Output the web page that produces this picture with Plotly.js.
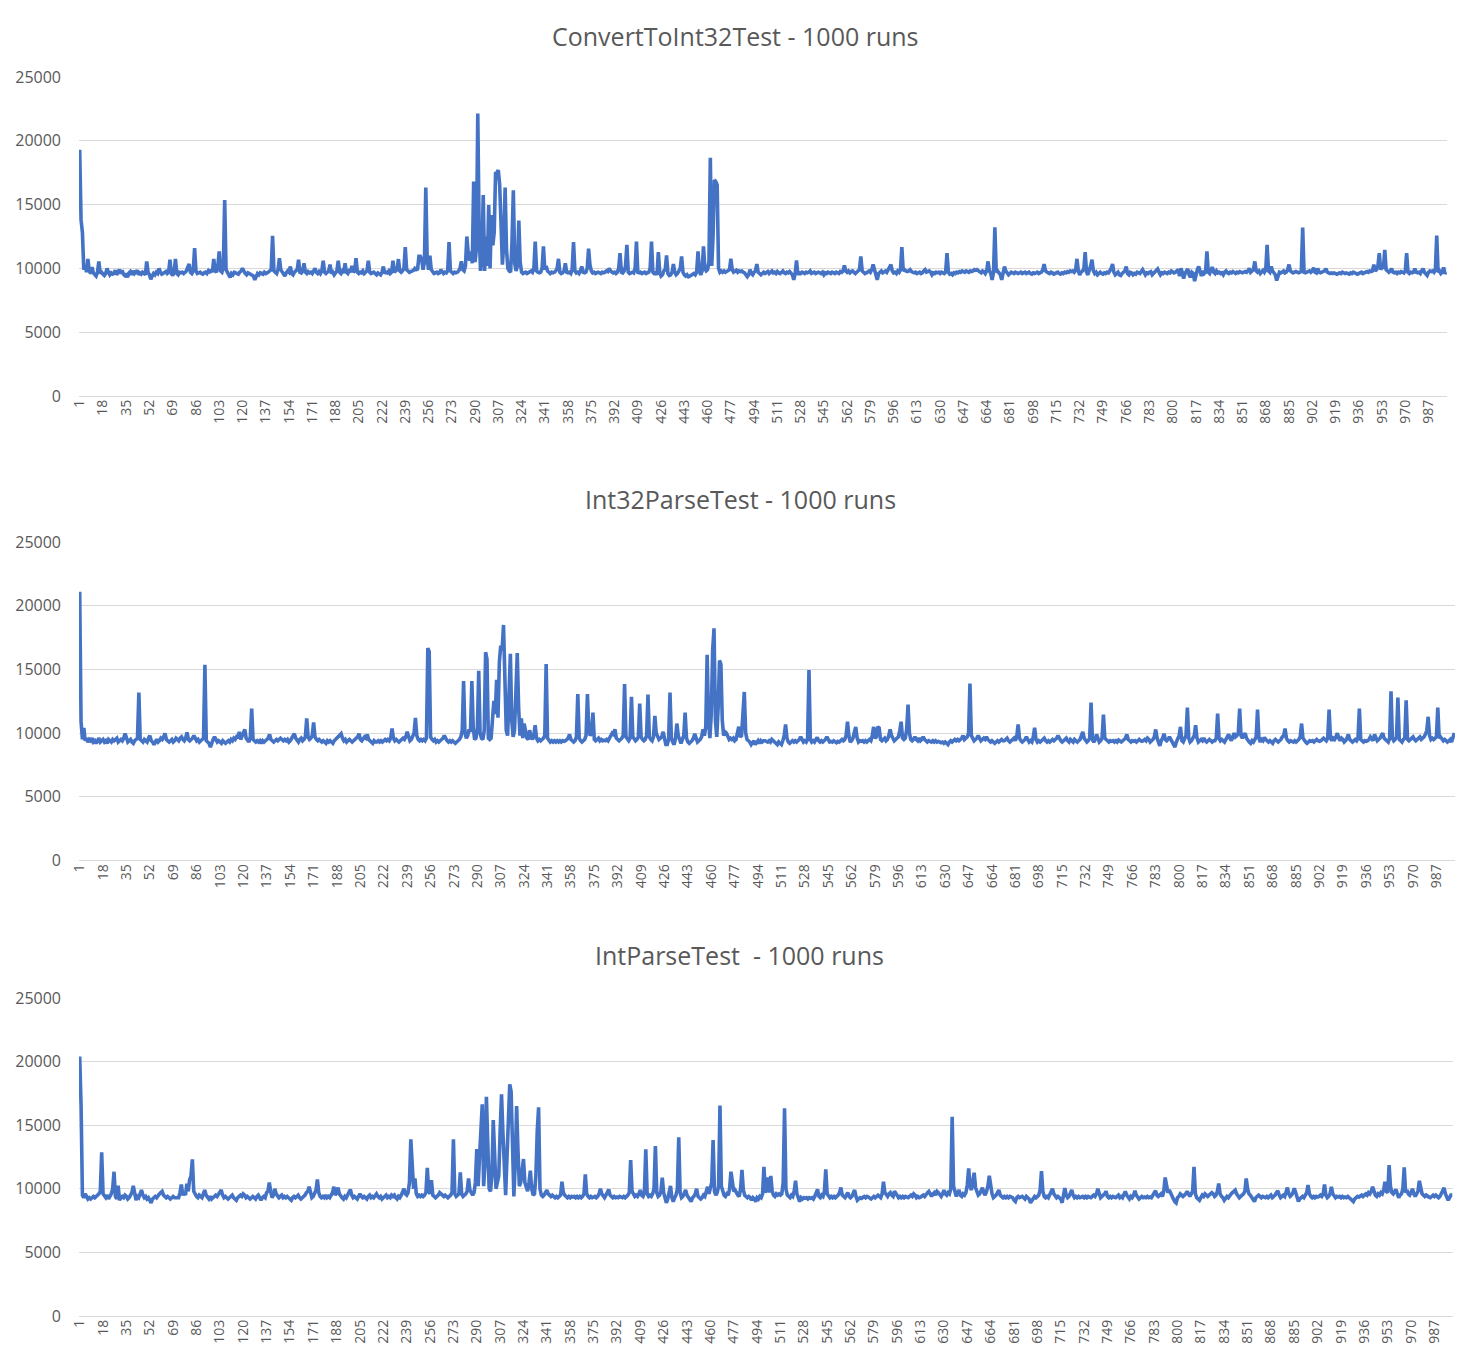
<!DOCTYPE html>
<html>
<head>
<meta charset="utf-8">
<script src="https://cdn.plot.ly/plotly-3.0.1.min.js"></script>
<style>
  html, body { margin: 0; padding: 0; background: #ffffff; }
  #chart { width: 1478px; height: 1371px; }
</style>
</head>
<body>
<div id="chart"></div>
<script>
// ---- DATA -------------------------------------------------------------
const chartTitles = ["ConvertToInt32Test - 1000 runs", "Int32ParseTest - 1000 runs", "IntParseTest\u00A0 - 1000 runs"];

const tickLabels = [1,18,35,52,69,86,103,120,137,154,171,188,205,222,239,256,273,290,307,324,341,358,375,392,409,426,443,460,477,494,511,528,545,562,579,596,613,630,647,664,681,698,715,732,749,766,783,800,817,834,851,868,885,902,919,936,953,970,987];

const yTicks = [0, 5000, 10000, 15000, 20000, 25000];

const convertToInt32Test = [
19300,13800,12800,9900,10200,9700,10750,9800,9600,10100,9650,9500,9400,9700,10550,9600,9700,9550,9450,9600,10000,9700,9500,9650,9550,
9600,9850,9500,9700,9900,9600,9850,9550,9450,9600,9300,9650,9750,9500,9800,9600,9700,9850,9500,9650,9550,9700,9600,9500,10550,
9700,9500,9150,9400,9600,9500,9700,9600,10000,9700,9550,9600,9650,9750,9600,9700,10680,9600,9450,9700,10750,9600,9500,9700,9650,
9700,9600,9750,9800,10100,10340,9700,9600,9800,11590,9800,9600,9650,9700,9600,9550,9650,9700,9600,9800,9650,9900,9700,10750,9800,
9700,10200,11330,9800,9700,10100,15360,9900,9600,9500,9300,9600,9500,9700,9650,9600,9550,9700,9800,10000,9700,9600,9500,9650,9600,
9550,9500,9400,9100,9400,9600,9500,9650,9600,9550,9700,9600,9650,9700,9800,9900,12550,9800,9700,9600,9900,10800,9900,9700,9500,
9400,9650,9800,9700,10150,9600,9500,9700,9800,9900,10680,9700,9650,9800,10400,9700,9600,9750,9650,9700,9600,9800,10000,9700,9600,
9750,9600,9800,10600,9700,9600,9700,9800,10300,9600,9700,9500,9650,9800,10600,9700,9600,9800,9650,10400,9700,9600,9800,9700,10200,
9700,9800,10800,9700,9600,9700,9650,9800,9600,9700,9800,10600,9700,9600,9650,9700,9600,9500,9650,9600,9500,9700,10150,9600,9700,
9650,9800,9600,9700,10600,9700,9800,9900,10730,9800,9700,9800,10000,11670,9900,9800,9700,9750,9800,9850,10000,9900,9950,10940,10940,
10700,9900,10500,16330,10800,9900,11000,9900,9700,9600,9650,9700,9600,9650,9900,9700,9600,9700,9650,9800,12060,9800,9700,9600,9700,
9650,9700,9800,10000,10550,9900,9800,10200,12500,11200,10600,11330,10400,16800,10500,11500,22130,13000,9800,11000,15750,9800,12500,10200,14970,
10000,14190,11800,12800,17450,17500,17700,16540,13500,10290,12000,16330,11500,10000,9800,9700,12000,16120,10400,9800,10200,13750,10500,9700,9600,
9650,9700,9600,9650,9700,9800,9700,10000,12100,9800,9700,9650,9700,10000,11720,9900,10200,9800,9700,9600,9700,9650,9700,9800,10000,
10750,9700,9600,9650,9800,10400,9700,9650,9700,9600,9900,12060,9800,9650,9700,9600,9800,10150,9700,9650,9700,10000,11540,10300,9800,
9650,9700,9600,9650,9700,9650,9600,9700,9650,9700,9800,9750,10000,9800,9700,9650,9700,9600,9700,10000,11200,9700,9650,9800,10200,
11850,9700,9600,9650,9700,9650,10000,12100,9700,9650,9700,9600,9650,9700,9600,9650,9700,10000,12100,9700,9600,9650,9500,11280,9700,
9400,9500,9800,9900,11020,9600,9450,9500,9700,10340,9700,9500,9600,9800,10000,10940,9700,9500,9400,9500,9350,9400,9450,9500,9600,
9500,9700,11330,9800,9500,9800,11720,10000,9800,9900,10500,18670,10200,12500,16930,16800,16540,10000,9700,9800,9700,9800,9700,9750,9800,
9900,10750,9900,9700,9800,9850,9700,9800,9750,9800,9700,9650,9500,9350,9500,9900,9600,9500,9700,9800,10340,9700,9600,9500,9600,
9700,9600,9650,9750,9600,9700,9800,9650,9700,9600,9750,9650,9600,9700,9800,9650,9600,9700,9650,9750,9600,9500,9100,9600,10620,
9500,9650,9600,9700,9650,9600,9700,9650,9700,9800,9600,9650,9700,9600,9650,9700,9650,9600,9700,9500,9650,9600,9700,9650,9600,
9700,9650,9600,9700,9650,9600,9750,9700,9800,10230,9800,9700,9800,9650,9750,9800,9700,9600,9700,9800,9900,10940,9800,9700,9600,
9650,9700,9800,9700,9900,10300,9700,9500,9100,9600,9700,9800,9650,9700,9800,9700,9900,10000,10300,9800,9650,9700,9600,9800,9700,
9900,11670,9800,9900,9800,9750,9800,9900,9750,9700,9650,9700,9600,9650,9700,9600,9650,9800,9900,9700,9750,9800,9700,9500,9650,
9600,9700,9650,9700,9600,9700,9650,9600,9700,11200,9700,9550,9600,9500,9650,9600,9700,9650,9750,9700,9800,9750,9700,9800,9750,
9700,9800,9750,9800,9900,9850,9900,9800,9700,9650,9800,9750,9600,9800,10550,9800,9600,9100,9700,13230,9700,9800,9650,9500,9100,
9500,10150,9800,9650,9500,9600,9700,9650,9600,9700,9650,9600,9650,9700,9600,9650,9700,9600,9650,9700,9600,9550,9650,9600,9650,
9700,9600,9650,9700,9900,10340,9800,9700,9650,9600,9700,9650,9550,9600,9650,9700,9600,9550,9650,9600,9700,9650,9750,9700,9800,
9750,9800,9700,9850,10750,9800,9500,9700,9800,9900,11280,9700,9500,9800,10200,10680,9800,9600,9700,9500,9650,9700,9600,9550,9650,
9600,9700,9650,9800,10000,10350,9700,9500,9600,9700,9500,9450,9600,9700,9800,10150,9600,9500,9700,9650,9500,9600,9550,9700,9650,
9600,9750,9900,9700,9500,9650,9600,9700,9750,9500,9600,9700,9800,9950,9700,9500,9650,9600,9700,9650,9600,9700,9650,9800,9700,
9650,9700,9800,9900,9400,10000,9700,9200,9600,9800,9950,9500,9300,9700,9600,9000,9600,9900,10150,9700,9400,9800,9600,9700,11330,
9700,9600,9900,10100,9700,9600,9800,9650,9700,9600,9650,9500,9700,9800,9650,9600,9700,9650,9750,9650,9600,9700,9650,9750,9700,
9650,9700,9750,9700,9800,10000,9700,9800,9900,10550,9800,9700,9800,9600,9700,9850,9700,9900,11850,9800,9700,10150,9800,9600,9500,
9050,9500,9700,9650,9700,9800,9650,9700,9900,10300,9800,9700,9650,9700,9750,9700,9650,9700,9800,13200,9700,9650,9700,9750,9800,
9700,9800,10050,9700,9650,10000,9700,9650,9700,9750,9800,9990,9700,9650,9600,9650,9600,9650,9600,9550,9600,9650,9600,9700,9650,
9600,9650,9600,9550,9650,9600,9700,9650,9600,9550,9600,9650,9700,9600,9650,9700,9750,9700,9800,9750,9800,10300,9800,9900,10200,
11200,9900,10100,10000,11460,9900,9800,9700,9800,9990,9700,9650,9700,9600,9700,9650,9750,9700,9650,9800,11200,9700,9600,9700,9650,
9700,9990,9700,9650,9700,9600,9800,9990,9700,9600,9450,9700,9800,9750,9800,9700,9900,12580,9700,9800,9600,9700,10080,9600,9700
];

const int32ParseTest = [
21100,10900,9500,10400,9400,9600,9300,9500,9400,9600,9300,9400,9200,9500,9600,9300,9400,9500,9300,9400,9200,9500,9400,9300,9500,
9400,9500,9600,9300,9400,9500,9400,9600,9970,9500,9300,9400,9500,9300,9200,9400,9500,9600,13180,9500,9400,9300,9500,9400,9300,
9600,9800,9400,9300,9100,9400,9500,9300,9400,9600,9500,9700,9970,9500,9400,9300,9400,9500,9300,9400,9600,9500,9400,9600,9700,
9500,9400,9600,10050,9500,9400,9500,9600,9800,9500,9400,9500,9300,9400,9500,9600,15360,9400,9300,9200,8900,9300,9500,9700,9400,
9300,9400,9300,9200,9400,9300,9200,9300,9400,9300,9500,9400,9600,9500,9700,9600,10100,9500,9800,10000,10290,9600,9400,9300,9700,
11930,9500,9400,9300,9400,9300,9400,9200,9400,9300,9400,9500,9600,9900,9500,9400,9300,9400,9500,9400,9500,9600,9500,9400,9500,
9400,9500,9300,9400,9600,9700,9950,9600,9400,9300,9500,9600,9400,9500,9700,11150,9700,9500,9600,9800,10830,9700,9500,9400,9500,
9400,9300,9400,9300,9200,9400,9300,9400,9300,9200,9400,9500,9600,9700,9800,9950,9600,9400,9500,9300,9400,9500,9400,9300,9400,
9500,9600,9700,9950,9500,9400,9600,9700,9600,9900,9500,9400,9300,9200,9400,9300,9300,9400,9300,9400,9300,9400,9500,9400,9500,
9400,9600,10360,9600,9400,9500,9400,9300,9400,9500,9600,9500,9700,10100,9600,9400,9500,9700,10000,11200,9800,9500,9400,9500,9400,
9500,9400,9600,16670,16400,9700,9500,9400,9500,9300,9400,9300,9400,9500,9600,9800,9500,9400,9300,9400,9300,9400,9300,9200,
9300,9400,9500,9700,10200,14090,10000,9600,9800,10300,10100,14090,10500,9500,9600,10300,14900,10000,9600,9500,10200,16350,15800,9600,9500,
9600,11000,12530,11500,14190,11200,15600,16870,16500,18490,14500,10200,9800,13000,16220,11000,9700,10200,13500,16280,12000,9800,11150,9600,10750,
10300,9600,9500,10230,9700,9500,9800,10620,9600,9400,9500,9400,9500,9600,9800,15420,9600,9400,9300,9400,9300,9400,9300,9400,9300,
9400,9300,9400,9350,9400,9500,9600,9900,9500,9400,9300,9400,9700,13070,9600,9400,9300,9400,9500,9800,13070,10300,9800,10000,11610,
9500,9400,9500,9600,9400,9500,9400,9450,9400,9500,9400,9600,9800,10000,9900,10310,9600,9500,9400,9500,9600,9800,13850,9700,
9500,9400,9600,12840,9700,9500,9400,9500,9700,12320,9700,9500,9400,9500,9800,13020,9700,9500,9400,9700,11350,10000,9700,9500,9600,
9700,10100,9400,9100,9100,9500,13180,9600,9300,9100,9600,10750,9800,9400,9200,9500,9800,11610,9600,9300,9200,9300,9400,9600,9950,
9600,9300,9400,9500,9700,10290,9800,10500,16150,11000,9600,11500,16500,18230,11000,9700,12000,15700,15400,11000,9800,10100,10000,9700,9500,
9600,9500,9600,9400,9500,10000,10500,9700,9800,11500,13230,10000,9500,9400,9300,9100,9300,9400,9100,9300,9400,9200,9400,9300,9400,
9400,9350,9300,9400,9300,9500,9400,9300,9200,9100,9300,9200,9100,9400,9800,10680,9600,9300,9200,9300,9400,9300,9400,9300,
9400,9500,9700,9500,9300,9400,9300,9500,14950,9500,9300,9400,9300,9500,9650,9400,9300,9400,9300,9400,9500,9700,9400,9300,9350,
9300,9400,9300,9250,9350,9300,9400,9500,9400,9500,9800,10890,9800,9300,9400,9600,10100,10490,9600,9300,9400,9350,9400,9300,9400,
9300,9400,9500,9400,9800,10490,9600,9700,10490,10400,9500,9400,9500,9600,9400,9500,9800,10290,9800,9500,9400,9500,9600,9700,10200,
10890,9600,9500,9600,10300,12240,10000,9500,9400,9500,9700,9500,9400,9600,9400,9500,9700,9500,9400,9300,9400,9350,9300,9400,9300,
9400,9300,9350,9300,9250,9300,9200,9300,9200,9100,9300,9400,9300,9400,9500,9400,9500,9400,9500,9600,9800,9500,9600,9700,10000,
13880,9800,9500,9400,9500,9600,9800,9600,9400,9500,9600,9500,9700,9500,9400,9300,9400,9300,9200,9300,9400,9300,9400,9500,9400,
9400,9500,9600,9400,9300,9400,9500,9600,9400,9700,10680,9600,9400,9300,9400,9500,9700,9400,9300,9400,9300,9700,10420,9500,
9300,9400,9300,9400,9500,9600,9400,9300,9400,9300,9400,9500,9400,9500,9600,9800,9500,9400,9300,9400,9500,9600,9400,9300,9500,
9400,9300,9500,9400,9300,9400,9500,9800,10100,9600,9400,9300,9400,9600,12400,9500,9300,9500,9900,9500,9300,9400,9600,11460,9600,
9500,9400,9300,9400,
9350,9400,9300,9400,9300,9450,9350,9300,9400,9500,9600,9900,9500,9400,9300,9400,9350,9400,9300,9400,9500,9400,9350,9400,9500,
9400,9600,9500,9300,9400,9500,9700,10290,9600,9300,9000,9400,9600,9950,9500,9400,9500,9700,9500,9300,9100,8900,9300,9600,9800,
10490,9400,9300,9500,9800,12000,9600,9300,9400,9600,9800,10620,9600,9300,9400,9500,9400,9600,9400,9300,9400,9500,9400,9300,9400,
9400,9600,11540,9600,9400,9500,9400,9300,9500,9700,9900,9600,9400,9700,10000,9700,9800,10000,11930,9800,9600,9800,10000,9600,9400,
9300,9200,9400,9300,9500,9700,11850,9600,9300,9500,9400,9650,9500,9400,9300,9400,9300,9200,9400,9500,9400,9300,9400,9500,9700,
9800,10360,9600,9400,9300,9400,9350,9300,9400,9300,9400,9500,9700,10750,9600,9400,9300,9200,9300,9400,9350,9400,9300,9400,9500,
9400,9350,9400,9500,9600,9500,9400,9600,11850,9600,9400,9600,9500,9700,10000,9600,9400,9600,9500,9300,9400,9600,9900,9500,9400,
9300,9400,9500,9400,9600,11930,9500,9400,9300,9400,9350,9400,9500,9700,9500,9400,9900,9600,9400,9500,9600,9800,10000,9600,9500,
9400,9300,9600,13280,9600,9400,9500,9700,12790,9500,9400,9300,9500,9600,12580,9500,9400,9500,9600,9700,9500,9400,9500,9600,9700,
9500,9600,9700,9900,10200,11280,9800,9500,9600,9500,9600,9700,12000,9600,9700,9500,9400,9500,9400,9300,9400,9500,9300,9600,10000
];

const intParseTest = [
20400,16600,9500,9300,9600,9400,9200,9300,9200,9300,9400,9300,9400,9500,9600,9800,12860,9600,9400,9300,9500,9200,9400,9600,10000,
11340,9400,9200,10240,9100,9300,9400,9300,9500,9400,9200,9300,9500,9700,10240,9600,9100,9400,9300,9600,9900,9500,9300,9400,9200,
9300,9100,8900,9200,9300,9400,9300,9500,9600,9700,9800,9500,9400,9300,9400,9300,9200,9300,9400,9300,9300,9350,9300,9700,10340,
9500,9700,9500,10400,9800,10700,11000,12310,9800,9500,9400,9300,9500,9400,9300,9600,9900,9500,9300,9200,9400,9200,9300,9400,9500,
9400,9600,9700,9900,9500,9300,9400,9300,9200,9300,9400,9500,9300,9200,9100,9300,9400,9500,9400,9600,9500,9300,9400,9300,9200,
9300,9400,9300,9200,9400,9500,9300,9100,9300,9400,9300,9700,9800,10500,9800,9300,9500,10000,9600,9400,9300,9400,9500,9300,9400,
9300,9400,9300,9200,9100,9300,9400,9300,9400,9500,9300,9200,9300,9400,9500,9700,9800,10160,9600,9300,9400,9600,9900,10740,9700,
9400,9300,9400,9300,9500,9300,9400,9300,9500,9700,10160,9500,9700,10100,9600,9400,9300,9200,9400,9300,9500,9700,9950,9500,9300,
9400,9300,9200,9400,9600,9400,9300,9400,9300,9200,9400,9500,9300,9400,9300,9500,9600,9400,9300,9400,9200,9300,9400,9500,9300,
9400,9300,9500,9400,9500,9300,9200,9400,9300,9500,9700,10000,9600,9500,9700,10500,13890,11500,10000,10810,9600,9400,9500,9400,9500,
9400,9500,9700,11650,9800,9600,10680,9500,9400,9300,9400,9500,9700,9600,9500,9400,9500,9400,9300,9400,9500,9700,13890,9600,9400,
9500,9600,11290,9600,9400,9500,9600,9800,10810,9900,9600,9500,9700,10500,13120,10200,12500,15500,16640,10200,12000,17240,12500,10000,9800,
11000,15410,12000,10000,10500,11000,14500,17430,14500,11000,9500,12500,16000,18220,17640,13000,9400,12000,16510,13000,10200,10500,11500,12340,10500,
10200,9800,10500,11420,10000,9500,9600,11000,14500,16400,10000,9500,9400,9500,9700,9900,9600,9500,9400,9500,9400,9300,9400,9300,9400,
9500,10550,9700,9500,9400,9300,9400,9300,9400,9350,9400,9300,9400,9300,9400,9300,9400,9600,11130,9600,9400,9300,9400,9300,9350,
9400,9300,9400,9600,10000,9600,9400,9300,9500,9700,9950,9500,9400,9300,9400,9300,9350,9300,9400,9350,9300,9400,9300,9400,9500,
9700,12260,9800,9500,9400,9500,9400,9600,9900,9500,9400,9700,13100,9600,9400,9500,9400,9600,10000,13360,9700,9400,9500,9800,10870,
9700,9300,8900,9200,9600,10230,9300,9000,9300,9500,10000,14040,9700,9300,9400,9600,9900,9500,9300,9200,9000,9300,9400,9600,10000,
9400,9300,9200,9300,9500,9400,9700,10160,9600,10000,10500,13830,9800,9500,9700,10200,16540,10200,9700,9500,9400,9600,9500,10000,11340,
10500,9800,9900,9600,9500,9400,10000,11480,9900,9500,9400,9300,9400,9300,9100,9300,9200,9000,9300,9200,9400,9300,9600,11730,9700,
10000,10900,9700,11020,9800,9500,9400,9600,9500,9600,9500,9600,10500,16330,10000,9500,9400,9300,9500,9400,9800,10630,9600,9300,9000,
9300,9200,9300,9250,9300,9200,9300,9250,9300,9200,9400,9600,9950,9400,9300,9500,9400,9800,11520,9600,9400,9300,9400,9300,9400,
9300,9400,9500,9700,10100,9500,9400,9300,9500,9700,9400,9300,9400,9600,9900,9400,9100,9200,9300,9250,9300,9400,9300,9400,9350,
9300,9200,9300,9400,9300,9400,9500,9400,9300,9600,10550,9700,9500,9400,9600,9700,9500,9400,9800,9600,9400,9300,9400,9300,9400,
9300,9400,9350,9300,9400,9500,9400,9600,9500,9300,9400,9300,9350,9400,9500,9400,9600,9700,9800,9500,9400,9600,9700,9500,9800,
9700,9500,9400,9600,9900,9600,9500,9700,9600,10000,15670,10200,9600,9400,9700,9900,9500,9400,9600,9500,9700,10300,11600,10200,9900,
10500,11260,10100,9700,9500,9600,9900,10080,9700,9500,9800,10200,11020,10000,9600,9300,9400,9500,9700,9900,9500,9400,9300,9400,9300,
9400,9300,9400,9350,9300,9100,9000,9300,9400,9300,9350,9400,9300,9200,9400,9300,9200,8900,9100,9300,9400,9300,9400,9500,9900,
11390,9800,9400,9300,9400,9300,9500,9700,10000,9600,9400,9300,9400,9300,9200,8900,9400,10050,9500,9300,9400,9600,9900,9500,9300,
9400,9300,9400,9300,9350,9400,9300,9400,9300,9400,9350,9300,9400,9500,9400,9600,10000,9500,9300,9400,9500,9600,9800,9400,9300,
9400,9300,9400,9350,9300,9400,9500,9300,9400,9300,9500,9800,9500,9300,9200,9400,9300,9500,9850,9500,9300,9200,9300,9400,9300,
9350,9300,9400,9300,9350,9300,9500,9700,9850,9500,9400,9500,9600,9400,9800,10890,10200,9700,9900,9600,9400,9200,9000,8900,9300,
9400,9600,9500,9400,9500,9600,9800,9500,9400,9600,9800,11730,9600,9300,9200,9100,9300,9500,9400,9600,9500,9400,9500,9600,9700,
9600,9400,9500,9800,10420,9600,9400,9300,9100,9300,9400,9300,9500,9600,9700,9800,9900,9600,9400,9300,9400,9500,9600,9800,10810,
10000,9600,9500,9300,9200,9000,9300,9400,9500,9400,9300,9400,9350,9300,9400,9300,9400,9500,9300,9400,9500,9700,9850,9500,9300,
9400,9500,9400,9700,10100,9600,9400,9500,9700,10050,9600,9300,9000,9200,9300,9400,9300,9500,9700,10290,9600,9400,9300,9400,9300,
9400,9350,9400,9500,9400,9600,10340,9500,9300,9400,9600,10160,9600,9400,9300,9400,9350,9400,9300,9400,9300,9350,9300,9400,9300,
9200,9100,9000,9200,9300,9400,9350,9400,9500,9400,9500,9600,9500,9700,9600,9800,10160,9700,9500,9400,9600,9500,9700,9600,9900,
10550,9800,9700,11860,10200,9700,9600,9800,9950,9600,9300,9500,9600,10000,11680,9700,9900,9600,9500,9700,10000,9600,9400,9600,9800,
10630,9900,9600,9500,9400,9500,9400,9350,9300,9400,9500,9400,9500,9400,9300,9400,9600,9800,10080,9600,9300,9100,9300,9500,9500
];

// ---- CHART ------------------------------------------------------------
const W = 1478, H = 1371;
const seriesList = [convertToInt32Test, int32ParseTest, intParseTest];
// pixel boxes: [left, right, top(25000), bottom(0)], title centre [x, y]
const boxes = [
  {l: 79, r: 1447, t: 77,  b: 396,   tx: 735, ty: 36},
  {l: 79, r: 1455, t: 542, b: 860.5, tx: 740, ty: 499},
  {l: 79, r: 1453, t: 998, b: 1316,  tx: 739, ty: 955}
];

const FONT = '"Segoe UI", "Open Sans", "Noto Sans", sans-serif';
const GREY = '#595959';
const GRID = '#d9d9d9';

const traces = [];
const layout = {
  width: W, height: H,
  margin: {l: 0, r: 0, t: 0, b: 0},
  paper_bgcolor: '#ffffff',
  plot_bgcolor: '#ffffff',
  showlegend: false,
  font: {family: FONT, color: GREY},
  annotations: []
};

seriesList.forEach((vals, k) => {
  const n = k + 1;
  const xs = vals.map((_, i) => i + 1);
  traces.push({
    type: 'scatter', mode: 'lines',
    x: xs, y: vals,
    xaxis: 'x' + (n === 1 ? '' : n),
    yaxis: 'y' + (n === 1 ? '' : n),
    line: {color: '#4472C4', width: 3.6},
    hoverinfo: 'skip'
  });
  const b = boxes[k];
  const xa = {
    domain: [b.l / W, b.r / W],
    anchor: 'y' + (n === 1 ? '' : n),
    range: [0.5, 1000.5],
    tickmode: 'array',
    tickvals: tickLabels,
    ticktext: tickLabels.map(String),
    tickangle: -90,
    tickfont: {family: FONT, size: 14, color: GREY},
    showgrid: false, zeroline: false,
    showline: false,
    ticks: '',
    fixedrange: true
  };
  const ya = {
    domain: [(H - b.b) / H, (H - b.t) / H],
    anchor: 'x' + (n === 1 ? '' : n),
    range: [0, 25000],
    tickmode: 'array',
    tickvals: yTicks,
    ticktext: yTicks.map(String),
    tickfont: {family: FONT, size: 16, color: GREY},
    showgrid: true, gridcolor: GRID, gridwidth: 1,
    zeroline: true, zerolinecolor: GRID, zerolinewidth: 1,
    showline: false, ticks: '',
    ticklabelstandoff: 17,
    fixedrange: true
  };
  layout['xaxis' + (n === 1 ? '' : n)] = xa;
  layout['yaxis' + (n === 1 ? '' : n)] = ya;
  layout.annotations.push({
    xref: 'paper', yref: 'paper',
    x: b.tx / W, y: 1 - b.ty / H,
    xanchor: 'center', yanchor: 'middle',
    text: chartTitles[k], showarrow: false,
    font: {family: FONT, size: 25, color: GREY}
  });
});

Plotly.newPlot('chart', traces, layout, {staticPlot: true, displayModeBar: false});
</script>
</body>
</html>
